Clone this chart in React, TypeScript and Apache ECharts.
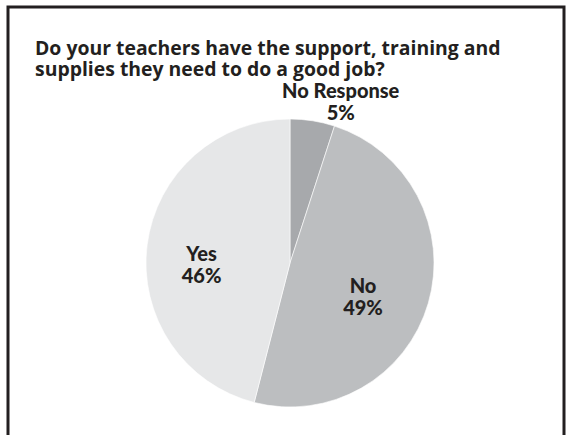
import React, { useEffect, useRef } from "react";
import * as echarts from "echarts";

const titleLines = [
  "Do your teachers have the support, training and",
  "supplies they need to do a good job?",
];
const categories = ["No Response", "No", "Yes"];
const values = [5, 49, 46];
const sliceColors = ["#a7a9ac", "#bcbec0", "#e6e7e8"];
const labelOffsets = [
  [39, -88],
  [1, 12],
  [-14, 10],
];

export default function App() {
  const ref = useRef<HTMLDivElement>(null);
  useEffect(() => {
    if (!ref.current) return;
    const chart = echarts.init(ref.current, null, { renderer: "svg" });
    const labelFont = "Lato, 'Open Sans', sans-serif";
    chart.setOption({
      animation: false,
      backgroundColor: "#ffffff",
      title: {
        text: titleLines.join("\n"),
        left: 30,
        top: 32,
        textStyle: {
          fontFamily: "'Open Sans', sans-serif",
          fontWeight: "bold",
          fontSize: 19.4,
          lineHeight: 21,
          color: "#231f20",
        },
      },
      graphic: [
        {
          type: "rect",
          shape: { x: 8, y: 7, width: 556, height: 440 },
          style: { fill: "none", stroke: "#231f20", lineWidth: 3 },
          silent: true,
        },
      ],
      series: [
        {
          type: "pie",
          center: [290, 263],
          radius: 144,
          startAngle: 90,
          clockwise: true,
          avoidLabelOverlap: false,
          labelLine: { show: false },
          itemStyle: { borderColor: "#ffffff", borderWidth: 0.6 },
          label: {
            show: true,
            position: "inside",
            formatter: (p: any) => `${p.name}\n${p.value}%`,
            fontFamily: labelFont,
            fontWeight: 900,
            fontSize: 20,
            lineHeight: 22,
            color: "#231f20",
            align: "center",
          },
          data: categories.map((name, i) => ({
            name,
            value: values[i],
            itemStyle: { color: sliceColors[i] },
            label: { offset: labelOffsets[i] },
          })),
        },
      ],
    });
    return () => chart.dispose();
  }, []);
  return (
    <div
      ref={ref}
      style={{ position: "absolute", left: 0, top: 0, width: 567, height: 435 }}
    />
  );
}
